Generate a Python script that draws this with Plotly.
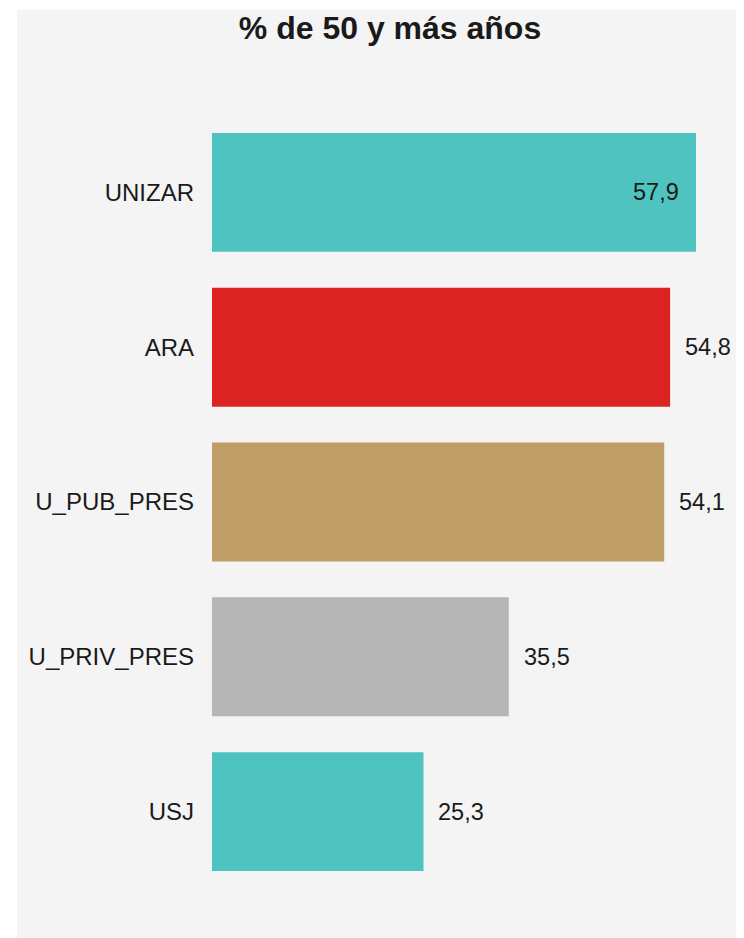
import plotly.graph_objects as go

categories = ["UNIZAR", "ARA", "U_PUB_PRES", "U_PRIV_PRES", "USJ"]
values = [57.9, 54.8, 54.1, 35.5, 25.3]
colors = ["#4EC3BF", "#DC2324", "#BF9D66", "#B6B6B6", "#4EC3BF"]
label_inside = [True, False, False, False, False]
title_text = "% de 50 y más años"

labels = [f"{v:.1f}".replace(".", ",") for v in values]

W, H = 736, 930
L, R, T, B = 204, 20, 106.5, 48.5
plot_w = W - L - R
plot_h = H - T - B
px_per_unit = 484 / 57.9
xmax = plot_w / px_per_unit

FONT = "Liberation Sans, Arial, sans-serif"
TXT = "#1a1a1a"

fig = go.Figure(
    go.Bar(
        x=values,
        y=categories,
        orientation="h",
        marker=dict(color=colors, line=dict(width=0)),
        hoverinfo="skip",
    )
)

for cat, v, lab, inside in zip(categories, values, labels, label_inside):
    fig.add_annotation(
        x=v, y=cat, xref="x", yref="y",
        text=lab, showarrow=False,
        xanchor="right" if inside else "left",
        xshift=-15 if inside else 13,
        font=dict(family=FONT, size=23.5, color=TXT),
    )

# gray page background offset like the reference
fig.add_shape(
    type="rect", xref="paper", yref="paper", layer="below",
    x0=(9 - L) / plot_w, x1=1.2,
    y0=-0.2, y1=(H - B - 1) / plot_h,
    fillcolor="#F4F4F4", line=dict(width=0),
)

fig.update_layout(
    width=W, height=H,
    margin=dict(l=L, r=R, t=T, b=B),
    paper_bgcolor="white",
    plot_bgcolor="rgba(0,0,0,0)",
    bargap=0.232,
    showlegend=False,
    title=dict(
        text=f"<b>{title_text}</b>",
        x=382 / W, xanchor="center", xref="container",
        y=1 - 20 / H, yanchor="middle", yref="container",
        font=dict(family=FONT, size=32, color=TXT),
    ),
    xaxis=dict(range=[0, xmax], visible=False, fixedrange=True),
    yaxis=dict(
        autorange="reversed",
        showgrid=False, zeroline=False, showline=False,
        ticks="", ticklabelstandoff=17,
        tickfont=dict(family=FONT, size=24, color=TXT),
    ),
)

fig.write_html("out.html")
